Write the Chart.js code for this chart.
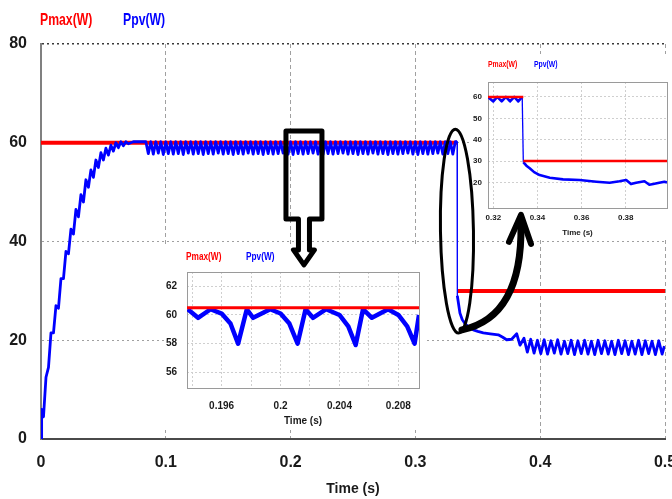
<!DOCTYPE html>
<html lang="en">
<head>
<meta charset="UTF-8">
<title>Pmax / Ppv</title>
<script src="https://cdn.jsdelivr.net/npm/chart.js"></script>
<style>
  html, body { margin: 0; padding: 0; background: #fff; }
  body {
    width: 672px; height: 499px; position: relative; overflow: hidden;
    font-family: 'Liberation Sans Narrow', 'Arial Narrow', 'Liberation Sans', Arial, sans-serif;
    font-weight: bold;
  }
  canvas { position: absolute; left: 0; top: 0; }
  .inset { position: absolute; background: #fff; }
  .lab { position: absolute; white-space: nowrap; line-height: 1; transform-origin: 0 0; }
  .red { color: #ff0000; }
  .blue { color: #0000ff; }
  #overlay { pointer-events: none; }
</style>
</head>
<body>
<canvas id="main" width="672" height="499"></canvas>
<span class="lab red" style="left:40px;top:11px;font-size:17px;transform:scaleX(0.72)">Pmax(W)</span>
<span class="lab blue" style="left:123px;top:11px;font-size:17px;transform:scaleX(0.72)">Ppv(W)</span>

<div class="inset" style="left:164px;top:246px;width:260px;height:184px">
  <canvas id="zoom1" width="260" height="184"></canvas>
  <span class="lab red" style="left:22px;top:5px;font-size:11.5px;transform:scaleX(0.72)">Pmax(W)</span>
  <span class="lab blue" style="left:82px;top:5px;font-size:11.5px;transform:scaleX(0.72)">Ppv(W)</span>
</div>

<div class="inset" style="left:470px;top:54px;width:202px;height:186px">
  <canvas id="zoom2" width="202" height="186"></canvas>
  <span class="lab red" style="left:18px;top:5px;font-size:9.5px;transform:scaleX(0.72)">Pmax(W)</span>
  <span class="lab blue" style="left:64px;top:5px;font-size:9.5px;transform:scaleX(0.72)">Ppv(W)</span>
</div>

<canvas id="overlay" width="672" height="499"></canvas>

<script>
// ---- main plot: axes ----
const mainXTicks = [0, 0.1, 0.2, 0.3, 0.4, 0.5];
const mainXLabels = ['0', '0.1', '0.2', '0.3', '0.4', '0.5'];
const mainYTicks = [0, 20, 40, 60, 80];
const mainYLabels = ['0', '20', '40', '60', '80'];

// ---- main plot: Pmax (W) ----
const pmaxTime = [0, 0.3334, 0.3334, 0.3334, 0.5];
const pmaxPower = [60, 60, null, 30, 30];

// ---- main plot: Ppv (W), read segment by segment ----
// start-up
const ppvRiseTime = [0, 0.0005, 0.002, 0.004, 0.006, 0.008, 0.010, 0.012, 0.014, 0.016,
  0.018, 0.020, 0.022, 0.024, 0.026, 0.028, 0.030, 0.032, 0.034, 0.036,
  0.038, 0.040, 0.042, 0.044, 0.046, 0.048, 0.050, 0.052, 0.054, 0.056,
  0.058, 0.060, 0.062, 0.064, 0.066, 0.068, 0.070, 0.074, 0.078, 0.084];
const ppvRisePower = [0, 6, 4.5, 12.5, 14.5, 21.5, 21.5, 27, 26.5, 32.5,
  32.5, 38, 37.5, 42.5, 41.5, 46.5, 45, 49.5, 48, 52.5,
  51, 54.5, 53, 56.5, 55, 58, 56.5, 58.9, 57.5, 59.5,
  58.3, 60, 59, 60.2, 59.4, 60.2, 59.8, 60.2, 60.2, 60.2];
// MPPT ripple at 60 W
const ppvSteadyTime = [
  0.086, 0.088, 0.090, 0.092, 0.094, 0.096, 0.098, 0.100, 0.102, 0.104,
  0.106, 0.108, 0.110, 0.112, 0.114, 0.116, 0.118, 0.120, 0.122, 0.124,
  0.126, 0.128, 0.130, 0.132, 0.134, 0.136, 0.138, 0.140, 0.142, 0.144,
  0.146, 0.148, 0.150, 0.152, 0.154, 0.156, 0.158, 0.160, 0.162, 0.164,
  0.166, 0.168, 0.170, 0.172, 0.174, 0.176, 0.178, 0.180, 0.182, 0.184,
  0.186, 0.188, 0.190, 0.192, 0.194, 0.196, 0.198, 0.200, 0.202, 0.204,
  0.206, 0.208, 0.210, 0.212, 0.214, 0.216, 0.218, 0.220, 0.222, 0.224,
  0.226, 0.228, 0.230, 0.232, 0.234, 0.236, 0.238, 0.240, 0.242, 0.244,
  0.246, 0.248, 0.250, 0.252, 0.254, 0.256, 0.258, 0.260, 0.262, 0.264,
  0.266, 0.268, 0.270, 0.272, 0.274, 0.276, 0.278, 0.280, 0.282, 0.284,
  0.286, 0.288, 0.290, 0.292, 0.294, 0.296, 0.298, 0.300, 0.302, 0.304,
  0.306, 0.308, 0.310, 0.312, 0.314, 0.316, 0.318, 0.320, 0.322, 0.324,
  0.326, 0.328, 0.330, 0.332];
const ppvSteadyPower = [
  57.8, 60.2, 57.7, 60.2, 57.9, 60.2, 57.6, 60.2, 57.8, 60.2,
  57.7, 60.2, 57.8, 60.2, 57.6, 60.2, 57.9, 60.2, 57.7, 60.2,
  57.8, 60.2, 57.6, 60.2, 57.8, 60.2, 57.7, 60.2, 57.9, 60.2,
  57.7, 60.2, 57.8, 60.2, 57.6, 60.2, 57.8, 60.2, 57.7, 60.2,
  57.9, 60.2, 57.7, 60.2, 57.8, 60.2, 57.6, 60.2, 57.8, 60.2,
  57.7, 60.2, 57.8, 60.2, 57.9, 60.2, 57.7, 60.2, 57.6, 60.2,
  57.8, 60.2, 57.7, 60.2, 57.8, 60.2, 57.9, 60.2, 57.7, 60.2,
  57.6, 60.2, 57.8, 60.2, 57.7, 60.2, 57.8, 60.2, 57.9, 60.2,
  57.7, 60.2, 57.8, 60.2, 57.6, 60.2, 57.8, 60.2, 57.7, 60.2,
  57.9, 60.2, 57.7, 60.2, 57.8, 60.2, 57.6, 60.2, 57.8, 60.2,
  57.7, 60.2, 57.8, 60.2, 57.9, 60.2, 57.7, 60.2, 57.6, 60.2,
  57.8, 60.2, 57.7, 60.2, 57.8, 60.2, 57.9, 60.2, 57.7, 60.2,
  57.8, 60.2, 57.7, 60.2];
// irradiance step and settling
const ppvStepTime = [0.3334, 0.3336, 0.3345, 0.3357, 0.3375, 0.3397, 0.3430, 0.3464, 0.3500,
  0.3544, 0.3600, 0.3664, 0.3700, 0.3731, 0.3771, 0.3812, 0.3838];
const ppvStepPower = [60.2, 29.0, 27.5, 25.5, 24.2, 23.4, 22.6, 22.1, 21.8,
  21.5, 21.3, 21.1, 20.6, 20.1, 20.2, 21.3, 19.0];
// ripple at the new operating point
const ppvLowTime = [
  0.3870, 0.3897, 0.3924, 0.3951, 0.3978, 0.4005, 0.4032, 0.4059, 0.4086, 0.4113,
  0.4140, 0.4167, 0.4194, 0.4221, 0.4248, 0.4275, 0.4302, 0.4329, 0.4356, 0.4383,
  0.4410, 0.4437, 0.4464, 0.4491, 0.4518, 0.4545, 0.4572, 0.4599, 0.4626, 0.4653,
  0.4680, 0.4707, 0.4734, 0.4761, 0.4788, 0.4815, 0.4842, 0.4869, 0.4896, 0.4923,
  0.4950, 0.4977, 0.4995];
const ppvLowPower = [
  20.4, 17.6, 20.2, 17.4, 20.0, 17.3, 20.1, 17.2, 19.9, 17.4,
  20.1, 17.2, 19.8, 17.3, 20.0, 17.1, 19.9, 17.3, 20.0, 17.2,
  19.8, 17.1, 20.0, 17.3, 19.9, 17.2, 19.8, 17.1, 20.0, 17.3,
  19.9, 17.1, 19.8, 17.2, 20.0, 17.1, 19.9, 17.3, 19.8, 17.1,
  19.9, 17.2, 18.8];

// ---- zoom 1 (steady-state ripple) ----
const inset1XTicks = [0.194, 0.196, 0.198, 0.200, 0.202, 0.204, 0.206, 0.208];
const inset1XLabels = ['', '0.196', '', '0.2', '', '0.204', '', '0.208'];
const inset1YTicks = [56, 58, 60, 62];
const inset1YLabels = ['56', '58', '60', '62'];
const inset1PmaxTime = [0.19365, 0.2094];
const inset1Pmax = [60.5, 60.5];
const inset1Time = [0.1937, 0.1944, 0.19525, 0.1960, 0.1966, 0.19712, 0.19771, 0.19814,
  0.1993, 0.2000, 0.2006, 0.20116, 0.2017, 0.2022, 0.2031, 0.2040, 0.2046, 0.2051,
  0.2056, 0.2062, 0.2073, 0.2080, 0.2086, 0.2091, 0.2094];
const inset1Ppv = [60.4, 59.8, 60.4, 60.1, 59.4, 58.0, 60.4, 59.8,
  60.4, 60.1, 59.4, 58.0, 60.4, 59.8, 60.4, 60.0, 59.2, 57.9,
  60.4, 59.8, 60.4, 60.0, 59.2, 58.0, 60.0];

// ---- zoom 2 (step change) ----
const inset2XTicks = [0.32, 0.34, 0.36, 0.38];
const inset2XLabels = ['0.32', '0.34', '0.36', '0.38'];
const inset2YTicks = [20, 30, 40, 50, 60];
const inset2YLabels = ['20', '30', '40', '50', '60'];
const inset2PmaxTime = [0.3176, 0.3336, 0.3336, 0.3336, 0.3987];
const inset2Pmax = [60, 60, null, 30, 30];
const inset2Time = [0.3176, 0.3200, 0.3218, 0.3238, 0.3257, 0.3276, 0.3295, 0.3313, 0.3331,
  0.3336, 0.3350, 0.3365, 0.3385, 0.3410, 0.3456, 0.3516, 0.3591, 0.3667, 0.3727,
  0.3772, 0.3802, 0.3824, 0.3847, 0.3885, 0.3907, 0.3925, 0.3952, 0.3975, 0.3987];
const inset2Ppv = [60.0, 57.9, 60.0, 57.9, 60.0, 57.9, 60.0, 57.9, 60.0,
  29.5, 27.8, 26.6, 24.8, 23.4, 22.2, 21.4, 21.1, 20.3, 19.8,
  20.5, 21.1, 19.2, 19.8, 20.5, 18.9, 19.2, 19.8, 20.3, 20.0];

// ---- annotation anchors (data units) ----
const boxAnchor = [0.2107, 62.4];     // top centre of the box-arrow
const ellipseAnchor = [0.3333, 42.1]; // centre of the ellipse
const arrowFrom = [0.3373, 22.1];     // curved arrow start
const arrowTo = [0.3846, 45.8];       // curved arrow tip

const FONT = "'Liberation Sans Narrow', 'Arial Narrow', 'Liberation Sans', Arial, sans-serif";
Chart.defaults.font.family = FONT;
Chart.defaults.font.weight = 'bold';
Chart.defaults.color = '#1a1a1a';
Chart.defaults.animation = false;

const toXY = (xs, ys) => xs.map((x, i) => ({ x, y: ys[i] }));
// thin line for the near-vertical jump, as in the original plot
const thinJump = ctx =>
  Math.abs(ctx.p1.parsed.y - ctx.p0.parsed.y) > 15 && Math.abs(ctx.p1.parsed.x - ctx.p0.parsed.x) < 0.001 ? 1.3 : undefined;

const noPad = s => { s.paddingLeft = 0; s.paddingRight = 0; s.paddingTop = 0; s.paddingBottom = 0; };

const frame = {
  id: 'frame',
  beforeDatasetsDraw(chart) {
    const { ctx, chartArea: a } = chart;
    ctx.save();
    ctx.strokeStyle = '#9a9a9a';
    ctx.lineWidth = 1;
    ctx.strokeRect(Math.round(a.left) + 0.5, Math.round(a.top) + 0.5, Math.round(a.right - a.left), Math.round(a.bottom - a.top));
    ctx.restore();
  }
};

const notes = {
  id: 'notes',
  afterDraw(chart) {
    const c = document.getElementById('overlay').getContext('2d');
    const px = t => chart.scales.x.getPixelForValue(t);
    const py = v => chart.scales.y.getPixelForValue(v);
    c.clearRect(0, 0, 672, 499);
    c.strokeStyle = '#000';
    c.lineJoin = 'round';
    c.lineCap = 'round';

    // box with downward arrow over the ripple
    const bx = px(boxAnchor[0]), by = py(boxAnchor[1]);
    const shape = [[-18, 0], [18, 0], [18, 88], [5.5, 88], [5.5, 119], [10.5, 119], [0, 134],
      [-10.5, 119], [-5.5, 119], [-5.5, 88], [-18, 88]];
    c.lineWidth = 5;
    c.beginPath();
    shape.forEach(([dx, dy], i) => i ? c.lineTo(bx + dx, by + dy) : c.moveTo(bx + dx, by + dy));
    c.closePath();
    c.stroke();

    // ellipse round the step
    c.lineWidth = 3;
    c.beginPath();
    c.ellipse(px(ellipseAnchor[0]), py(ellipseAnchor[1]), 16.5, 102, -0.016, 0, 2 * Math.PI);
    c.stroke();

    // curved arrow towards the second zoom
    const ax = px(arrowFrom[0]), ay = py(arrowFrom[1]);
    const hx = px(arrowTo[0]), hy = py(arrowTo[1]);
    c.lineWidth = 7;
    c.beginPath();
    c.moveTo(ax, ay);
    c.bezierCurveTo(ax + 38, ay - 8, hx + 1, hy + 77, hx, hy + 12);
    c.stroke();
    c.lineWidth = 6;
    c.beginPath();
    c.moveTo(hx - 12, hy + 29);
    c.lineTo(hx, hy + 2);
    c.lineTo(hx + 10, hy + 31);
    c.stroke();
  }
};

const lineDefaults = { point: { radius: 0 }, line: { tension: 0, borderJoinStyle: 'round' } };

// ---- main chart ----
new Chart(document.getElementById('main'), {
  type: 'line',
  data: {
    datasets: [
      {
        label: 'Ppv(W)',
        data: toXY(
          [...ppvRiseTime, ...ppvSteadyTime, ...ppvStepTime, ...ppvLowTime],
          [...ppvRisePower, ...ppvSteadyPower, ...ppvStepPower, ...ppvLowPower]),
        borderColor: '#0000ff', borderWidth: 2.8,
        segment: { borderWidth: thinJump }
      },
      {
        label: 'Pmax(W)',
        data: toXY(pmaxTime, pmaxPower),
        borderColor: '#ff0000', borderWidth: 4, spanGaps: false
      }
    ]
  },
  options: {
    responsive: false,
    events: [],
    elements: lineDefaults,
    layout: { padding: { left: 0, top: 44, right: 7, bottom: 0 } },
    plugins: { legend: { display: false }, tooltip: { enabled: false } },
    scales: {
      x: {
        type: 'linear', min: 0, max: 0.5,
        afterBuildTicks: s => { s.ticks = mainXTicks.map(v => ({ value: v })); },
        afterFit: s => { s.height = 60; noPad(s); },
        ticks: {
          callback: v => mainXLabels[mainXTicks.indexOf(v)],
          font: { size: 16 }, padding: 14, maxRotation: 0, autoSkip: false, color: '#1a1a1a'
        },
        grid: { drawTicks: false, lineWidth: 1, color: c => (c.tick && c.tick.value === 0) ? 'rgba(0,0,0,0)' : '#a0a0a0' },
        border: { display: true, color: '#4a4a4a', width: 2, dash: [4, 3] },
        title: { display: true, text: 'Time (s)', font: { size: 14 }, padding: { top: 0, bottom: 1 }, color: '#1a1a1a' }
      },
      y: {
        type: 'linear', min: 0, max: 80,
        afterBuildTicks: s => { s.ticks = mainYTicks.map(v => ({ value: v })); },
        afterFit: s => { s.width = 41; noPad(s); },
        ticks: {
          callback: v => mainYLabels[mainYTicks.indexOf(v)],
          font: { size: 16 }, padding: 14, color: '#1a1a1a'
        },
        grid: {
          drawTicks: false, lineWidth: c => (c.tick && c.tick.value === 80) ? 1.5 : 1,
          color: c => !c.tick ? '#a0a0a0' : c.tick.value === 0 ? 'rgba(0,0,0,0)' : c.tick.value === 80 ? '#3a3a3a' : '#a0a0a0'
        },
        border: { display: true, color: '#808080', width: 2, dash: [2, 3] }
      }
    }
  },
  plugins: [notes]
});

// ---- inset helper ----
function insetScales(o) {
  return {
    x: {
      type: 'linear', min: o.xMin, max: o.xMax,
      afterBuildTicks: s => { s.ticks = o.xTicks.map(v => ({ value: v })); },
      afterFit: s => { s.height = o.xHeight; noPad(s); },
      ticks: {
        callback: v => o.xLabels[o.xTicks.indexOf(v)],
        font: { size: o.font }, padding: o.xPad, maxRotation: 0, autoSkip: false, color: '#1a1a1a'
      },
      grid: { drawTicks: false, color: '#cfcfcf', lineWidth: 1 },
      border: { display: false, dash: [2, 2] },
      title: { display: true, text: 'Time (s)', font: { size: o.titleSize }, padding: { top: 0, bottom: o.titlePad }, color: '#1a1a1a' }
    },
    y: {
      type: 'linear', min: o.yMin, max: o.yMax,
      afterBuildTicks: s => { s.ticks = o.yTicks.map(v => ({ value: v })); },
      afterFit: s => { s.width = o.yWidth; noPad(s); },
      ticks: {
        callback: v => o.yLabels[o.yTicks.indexOf(v)],
        font: { size: o.font }, padding: o.yPad, color: '#1a1a1a'
      },
      grid: { drawTicks: false, color: '#cfcfcf', lineWidth: 1 },
      border: { display: false, dash: [2, 2] }
    }
  };
}

// ---- zoom 1 ----
new Chart(document.getElementById('zoom1'), {
  type: 'line',
  data: {
    datasets: [
      { label: 'Pmax(W)', data: toXY(inset1PmaxTime, inset1Pmax), borderColor: '#ff0000', borderWidth: 3 },
      { label: 'Ppv(W)', data: toXY(inset1Time, inset1Ppv), borderColor: '#0000ff', borderWidth: 4.5 }
    ]
  },
  options: {
    responsive: false, events: [], elements: lineDefaults,
    layout: { padding: { left: 0, top: 26, right: 5, bottom: 0 } },
    plugins: { legend: { display: false }, tooltip: { enabled: false } },
    scales: insetScales({
      xMin: 0.19365, xMax: 0.2094, xTicks: inset1XTicks, xLabels: inset1XLabels,
      yMin: 54.9, yMax: 63, yTicks: inset1YTicks, yLabels: inset1YLabels,
      xHeight: 42, yWidth: 23, font: 10, xPad: 12, yPad: 10, titleSize: 10, titlePad: 3
    })
  },
  plugins: [frame]
});

// ---- zoom 2 ----
new Chart(document.getElementById('zoom2'), {
  type: 'line',
  data: {
    datasets: [
      { label: 'Pmax(W)', data: toXY(inset2PmaxTime, inset2Pmax), borderColor: '#ff0000', borderWidth: 2.6, spanGaps: false },
      { label: 'Ppv(W)', data: toXY(inset2Time, inset2Ppv), borderColor: '#0000ff', borderWidth: 2.6, segment: { borderWidth: thinJump } }
    ]
  },
  options: {
    responsive: false, events: [], elements: lineDefaults,
    layout: { padding: { left: 0, top: 28, right: 5, bottom: 0 } },
    plugins: { legend: { display: false }, tooltip: { enabled: false } },
    scales: insetScales({
      xMin: 0.3176, xMax: 0.3987, xTicks: inset2XTicks, xLabels: inset2XLabels,
      yMin: 8, yMax: 67, yTicks: inset2YTicks, yLabels: inset2YLabels,
      xHeight: 32, yWidth: 18, font: 8, xPad: 5, yPad: 6, titleSize: 8, titlePad: 2
    })
  },
  plugins: [frame]
});
</script>
</body>
</html>
